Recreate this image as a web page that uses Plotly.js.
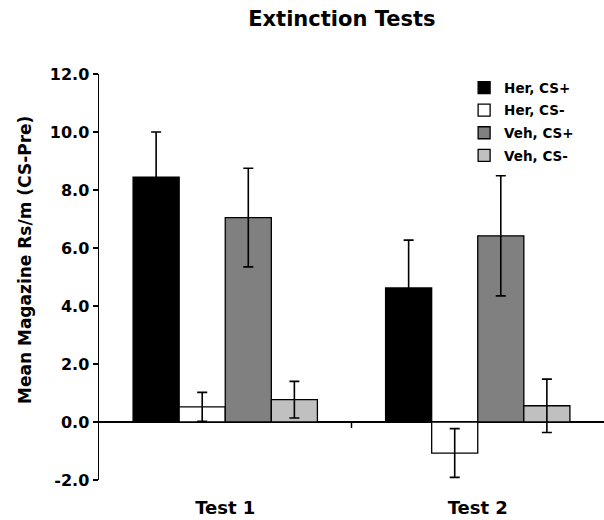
<!DOCTYPE html>
<html>
<head>
<meta charset="utf-8">
<script src="https://cdn.plot.ly/plotly-3.0.1.min.js"></script>
<style>html,body{margin:0;padding:0;background:#fff;}#chart{width:604px;height:520px;}</style>
</head>
<body>
<div id="chart"></div>
<script>
var categories = ["Test 1", "Test 2"];
var herCSplus = [8.44, 4.62];
var herCSplusErr = [1.56, 1.65];
var herCSminus = [0.52, -1.07];
var herCSminusErr = [0.5, 0.84];
var vehCSplus = [7.05, 6.42];
var vehCSplusErr = [1.7, 2.07];
var vehCSminus = [0.77, 0.56];
var vehCSminusErr = [0.63, 0.92];
var yTicks = [-2, 0, 2, 4, 6, 8, 10, 12];
var yTickText = ["-2.0", "0.0", "2.0", "4.0", "6.0", "8.0", "10.0", "12.0"];

var FONT = "DejaVu Sans, Verdana, sans-serif";
function mk(name, y, err, color) {
  return {
    type: "bar", name: name, x: categories, y: y, legendgroup: name,
    marker: {color: color, line: {color: "#000", width: 1.3}},
    error_y: {type: "data", array: err, visible: true, color: "#000", thickness: 1.6, width: 5}
  };
}
var data = [
  mk("Her, CS+", herCSplus, herCSplusErr, "#000000"),
  mk("Her, CS-", herCSminus, herCSminusErr, "#ffffff"),
  mk("Veh, CS+", vehCSplus, vehCSplusErr, "#808080"),
  mk("Veh, CS-", vehCSminus, vehCSminusErr, "#c0c0c0")
];
var layout = {
  width: 604, height: 520,
  margin: {l: 99, r: 0, t: 74, b: 40},
  paper_bgcolor: "#fff", plot_bgcolor: "#fff",
  barmode: "group", bargap: 0.27, bargroupgap: 0,
  font: {family: FONT, color: "#000", weight: "bold"},
  title: {text: "Extinction Tests", font: {family: FONT, size: 21, weight: "bold", color: "#000"},
          x: 0.566, xref: "container", xanchor: "center", y: 0.965, yref: "container", yanchor: "middle"},
  xaxis: {type: "category", range: [-0.5, 1.5], showline: false, showgrid: false, zeroline: false,
          ticks: "outside", ticklen: 11, tickcolor: "rgba(0,0,0,0)",
          tickfont: {family: FONT, size: 18, weight: "bold", color: "#000"}, fixedrange: true},
  yaxis: {range: [-2, 12], tickvals: yTicks, ticktext: yTickText, showline: true, linecolor: "#000", linewidth: 1.5,
          ticks: "outside", ticklen: 5, tickwidth: 1.5, tickcolor: "#000", showgrid: false,
          zeroline: true, zerolinecolor: "#000", zerolinewidth: 1.5,
          tickfont: {family: FONT, size: 16, weight: "bold", color: "#000"}, fixedrange: true},
  showlegend: true,
  legend: {x: 0.723, xanchor: "left", y: 1.004, yanchor: "top", bgcolor: "rgba(0,0,0,0)",
           font: {family: FONT, size: 13.5, weight: "bold", color: "#000"},
           traceorder: "grouped", tracegroupgap: 2},
  annotations: [{text: "Mean Magazine Rs/m (CS-Pre)", textangle: -90, xref: "paper", yref: "paper",
                 x: -0.1465, y: 0.542, xanchor: "center", yanchor: "middle", showarrow: false,
                 font: {family: FONT, size: 17, weight: "bold", color: "#000"}}],
  shapes: [{type: "line", xref: "x", yref: "y", x0: 0.5, x1: 0.5, ysizemode: "pixel", yanchor: 0, y0: 0, y1: -6,
            line: {color: "#000", width: 1.5}}]
};
Plotly.newPlot("chart", data, layout, {displayModeBar: false, staticPlot: true});
</script>
</body>
</html>
